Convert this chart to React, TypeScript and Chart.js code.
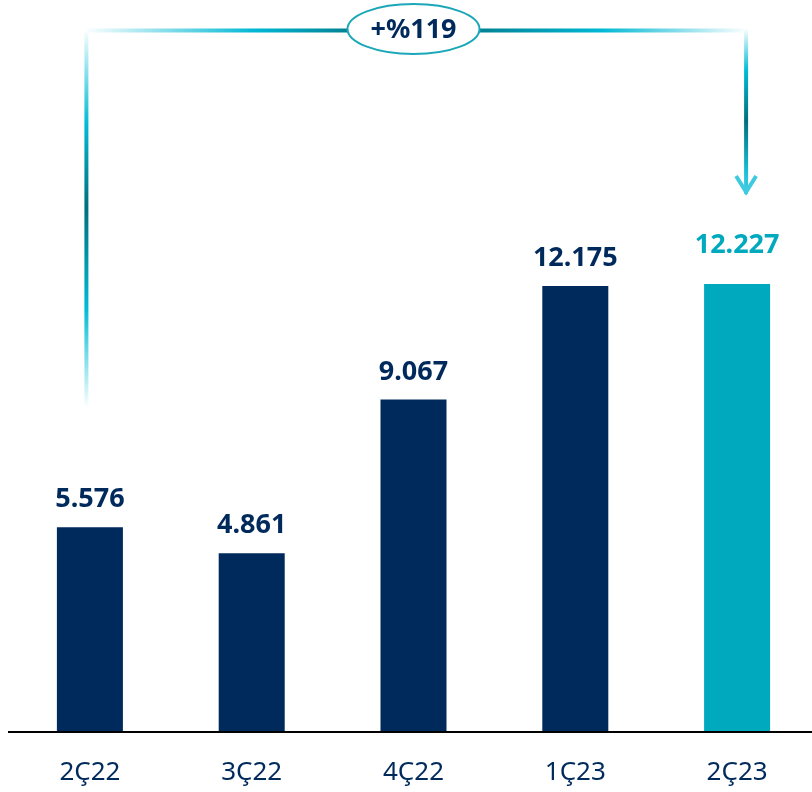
import React, { useEffect, useRef } from "react";
import { Chart, registerables } from "chart.js";

Chart.register(...registerables);

const categories: string[] = ["2Ç22", "3Ç22", "4Ç22", "1Ç23", "2Ç23"];
const values: number[] = [5576, 4861, 9067, 12175, 12227];
const highlightIndex = 4;

const NAVY = "#002a5c";
const TEAL = "#00a9bd";
const FONT = "'Noto Sans', sans-serif";

function fmt(v: number): string {
  return String(v).replace(/\B(?=(\d{3})+(?!\d))/g, ".");
}

const overlayPlugin = {
  id: "overlay",
  afterDraw(chart: any) {
    const ctx: CanvasRenderingContext2D = chart.ctx;
    const meta = chart.getDatasetMeta(0);
    const area = chart.chartArea;
    ctx.save();

    // baseline axis line
    ctx.strokeStyle = "#000000";
    ctx.lineWidth = 2;
    ctx.beginPath();
    ctx.moveTo(8, area.bottom + 1);
    ctx.lineTo(812, area.bottom + 1);
    ctx.stroke();

    // value labels
    ctx.font = `bold 27px ${FONT}`;
    ctx.textAlign = "center";
    ctx.textBaseline = "alphabetic";
    meta.data.forEach((el: any, i: number) => {
      const hi = i === highlightIndex;
      ctx.fillStyle = hi ? TEAL : NAVY;
      ctx.fillText(fmt(values[i]), el.x, el.y - (hi ? 31 : 20));
    });

    // growth bracket
    const first = meta.data[0];
    const last = meta.data[values.length - 1];
    const mid = meta.data[2];
    const lx = first.x - 3.5;
    const rx = last.x + 9;
    const topY = 30.5;
    const ex = mid.x;
    const ey = 29;
    const erx = 66;
    const ery = 25;
    ctx.lineWidth = 4;
    ctx.lineCap = "butt";

    // left vertical
    let g = ctx.createLinearGradient(0, topY - 2, 0, 408);
    g.addColorStop(0, "#ffffff");
    g.addColorStop(0.25, "#00bcd6");
    g.addColorStop(0.47, "#006f7e");
    g.addColorStop(0.74, "#00bcd6");
    g.addColorStop(1, "#ffffff");
    ctx.strokeStyle = g;
    ctx.beginPath();
    ctx.moveTo(lx, topY - 2);
    ctx.lineTo(lx, 408);
    ctx.stroke();

    // left horizontal
    g = ctx.createLinearGradient(lx - 2, 0, ex - erx, 0);
    g.addColorStop(0, "#ffffff");
    g.addColorStop(0.65, "#00b7d3");
    g.addColorStop(1, "#008294");
    ctx.strokeStyle = g;
    ctx.beginPath();
    ctx.moveTo(lx - 2, topY);
    ctx.lineTo(ex - erx + 2, topY);
    ctx.stroke();

    // right horizontal
    g = ctx.createLinearGradient(ex + erx, 0, rx + 2, 0);
    g.addColorStop(0, "#008294");
    g.addColorStop(0.45, "#00b7d3");
    g.addColorStop(1, "#ffffff");
    ctx.strokeStyle = g;
    ctx.beginPath();
    ctx.moveTo(ex + erx - 2, topY);
    ctx.lineTo(rx + 2, topY);
    ctx.stroke();

    // right vertical
    const tipY = 196;
    g = ctx.createLinearGradient(0, topY - 2, 0, tipY);
    g.addColorStop(0, "#ffffff");
    g.addColorStop(0.25, "#00bcd6");
    g.addColorStop(0.55, "#006f7e");
    g.addColorStop(0.85, "#17bed6");
    g.addColorStop(1, "#4fcfe3");
    ctx.strokeStyle = g;
    ctx.beginPath();
    ctx.moveTo(rx, topY - 2);
    ctx.lineTo(rx, tipY - 2);
    ctx.stroke();

    // arrowhead
    ctx.strokeStyle = "#3fcae0";
    ctx.lineWidth = 4;
    ctx.lineJoin = "miter";
    ctx.beginPath();
    ctx.moveTo(rx - 10, tipY - 20);
    ctx.lineTo(rx, tipY - 4);
    ctx.lineTo(rx + 10, tipY - 20);
    ctx.stroke();

    // ellipse
    ctx.beginPath();
    ctx.ellipse(ex, ey, erx, ery, 0, 0, Math.PI * 2);
    ctx.fillStyle = "#ffffff";
    ctx.fill();
    ctx.lineWidth = 2;
    ctx.strokeStyle = "#1aa7b8";
    ctx.stroke();

    const growth = Math.round((values[values.length - 1] / values[0] - 1) * 100);
    ctx.font = `bold 27px ${FONT}`;
    ctx.fillStyle = NAVY;
    ctx.textAlign = "center";
    ctx.textBaseline = "middle";
    ctx.fillText(`+%${growth}`, ex, ey + 1);

    ctx.restore();
  },
};

export default function App() {
  const ref = useRef<HTMLCanvasElement | null>(null);

  useEffect(() => {
    if (!ref.current) return;
    const chart = new Chart(ref.current, {
      type: "bar",
      data: {
        labels: categories,
        datasets: [
          {
            data: values,
            backgroundColor: values.map((_, i) => (i === highlightIndex ? TEAL : NAVY)),
            barPercentage: 0.408,
            categoryPercentage: 1,
            borderWidth: 0,
          },
        ],
      },
      options: {
        animation: false,
        responsive: true,
        maintainAspectRatio: false,
        layout: { padding: { left: 9, right: 0, top: 0, bottom: 0 } },
        plugins: {
          legend: { display: false },
          tooltip: { enabled: false },
        },
        scales: {
          x: {
            offset: true,
            grid: { display: false, drawTicks: false },
            border: { display: false },
            afterFit(scale: any) {
              scale.height = 61;
            },
            ticks: {
              color: NAVY,
              padding: 26,
              font: { family: FONT, size: 26 },
            },
          },
          y: {
            display: false,
            min: 0,
            max: 20000,
          },
        },
      },
      plugins: [overlayPlugin],
    });
    return () => chart.destroy();
  }, []);

  return (
    <div
      style={{
        position: "fixed",
        left: 0,
        top: 0,
        width: 812,
        height: 792,
        overflow: "hidden",
        background: "#ffffff",
      }}
    >
      <div style={{ position: "relative", width: 818, height: 792 }}>
        <canvas ref={ref} />
      </div>
    </div>
  );
}
